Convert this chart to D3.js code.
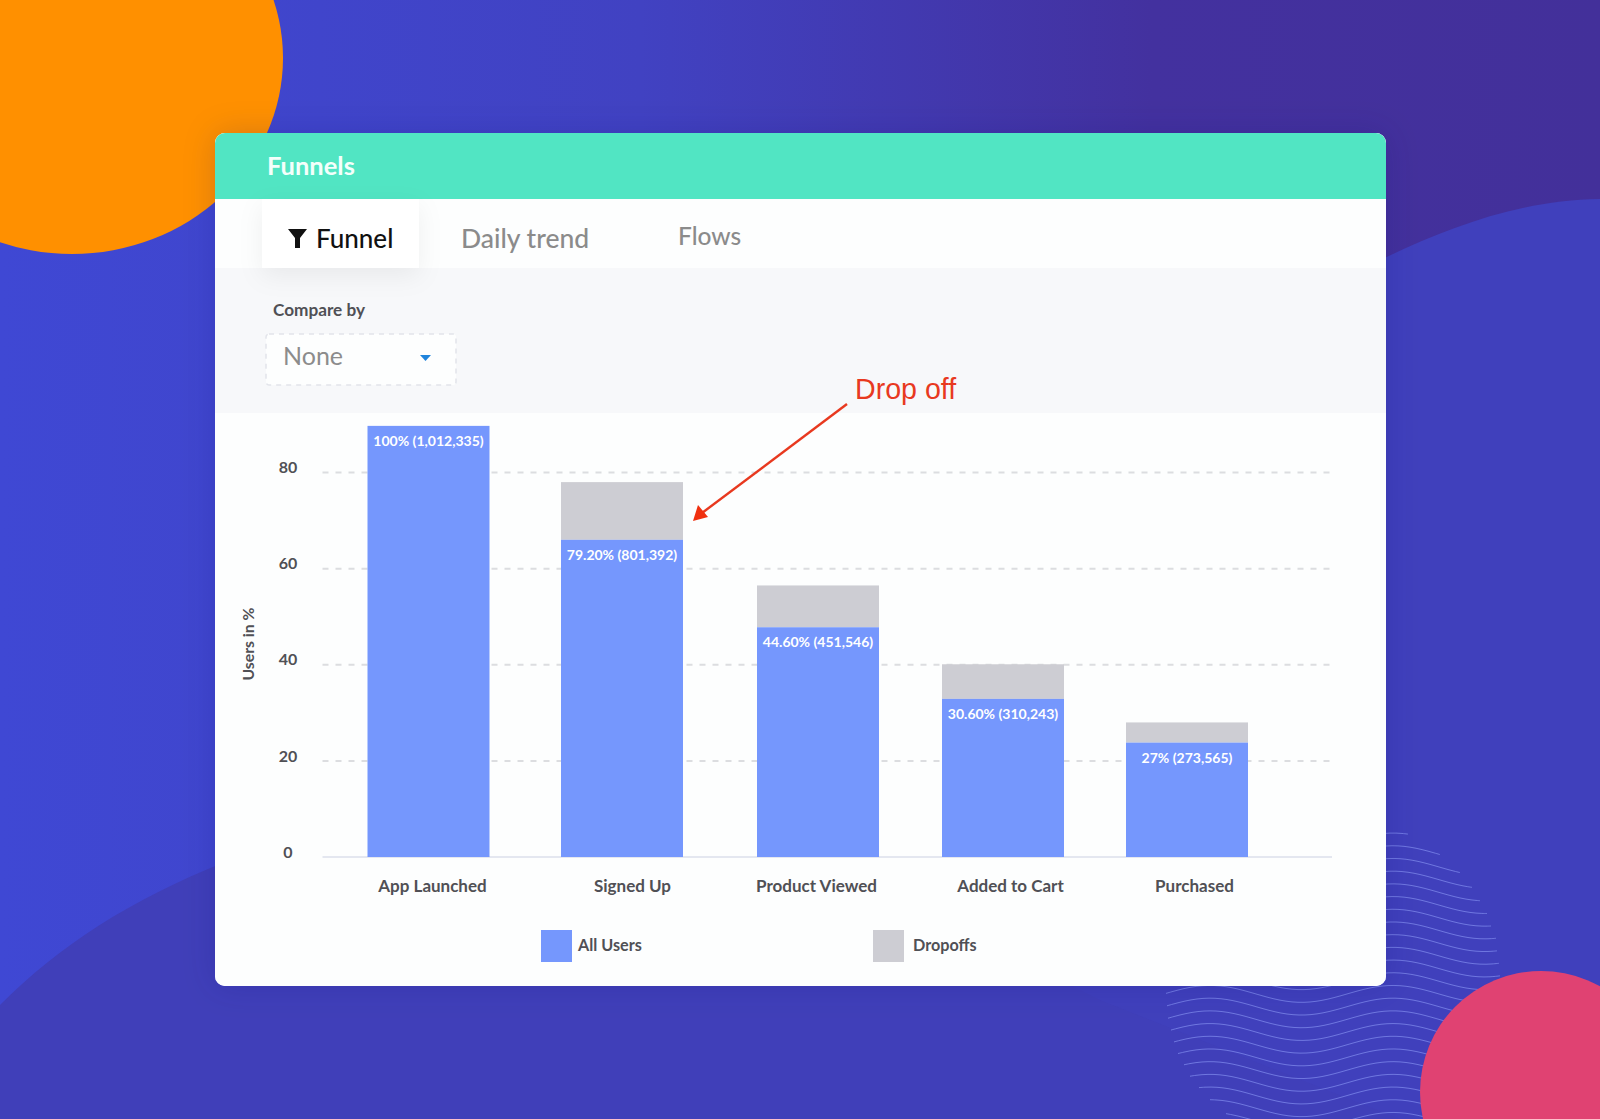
<!DOCTYPE html>
<html><head><meta charset="utf-8">
<script src="https://cdn.jsdelivr.net/npm/d3@7"></script>
<style>html,body{margin:0;padding:0;background:#3f45c8;overflow:hidden}svg{display:block}text{font-family:Lato,"Open Sans",sans-serif}</style>
</head><body><svg id="c" width="1600" height="1119"></svg>
<script>
const categories = ["App Launched","Signed Up","Product Viewed","Added to Cart","Purchased"];
const allUsers = [89.7,66,47.8,32.9,23.8];
const dropoffs = [0,12,8.7,7.2,4.2];
const barLabels = ["100% (1,012,335)","79.20% (801,392)","44.60% (451,546)","30.60% (310,243)","27% (273,565)"];
const yTicks = [0,20,40,60,80];
const seriesNames = ["All Users","Dropoffs"];
const seriesColors = ["#7597fd","#cdcdd3"];
const tabs = ["Funnel","Daily trend","Flows"];

// layout
const barCenters = [428.5,622,818,1003,1187], labelCenters=[432,632,816,1010,1194], barW=122;
const svg = d3.select("#c"), defs = svg.append("defs");
const x = d3.scaleOrdinal().domain(categories).range(barCenters);
const xl = d3.scaleOrdinal().domain(categories).range(labelCenters);
const y = d3.scaleLinear().domain([0,80]).range([857,472.5]);

// background
const g1 = defs.append("linearGradient").attr("id","bg").attr("x1",0).attr("y1",0).attr("x2",1).attr("y2",0);
[[0,"#3f48d4"],[.4,"#4142c2"],[.72,"#43319f"],[1,"#43309a"]].forEach(s=>g1.append("stop").attr("offset",s[0]).attr("stop-color",s[1]));
svg.append("rect").attr("width",1600).attr("height",1119).attr("fill","url(#bg)");
svg.append("path").attr("fill","#4040bc").attr("d","M1360 270C1430 235 1510 200 1600 199L1600 1119L900 1119L900 700Z");
svg.append("path").attr("fill","#403fb9").attr("d","M0 1005C60 945 130 900 225 862L700 800L1100 1000L1400 1119L0 1119Z");
svg.append("ellipse").attr("cx",72).attr("cy",58).attr("rx",211).attr("ry",196).attr("fill","#ff9000");

// wave decoration
const rightEnds=[1408,1440,1460,1472,1480,1487,1491,1496,1497,1499,1500,1500,1500,1500,1500,1500,1500,1500,1500,1500,1500,1500,1500,1500];
const leftEnds=[1300,1290,1280,1270,1250,1230,1200,1180,1170,1168,1166,1166,1166,1167,1168,1171,1174,1178,1184,1190,1199,1210,1226,1243];
const waveLine=d3.line().x(d=>d[0]).y(d=>d[1]).curve(d3.curveBasis);
rightEnds.forEach((r,n)=>{
  const y0=833+12.7*n, l=leftEnds[n], pts=d3.range(l,r+1,6).concat([r]);
  svg.append("path").attr("fill","none").attr("stroke","#7f8aec").attr("stroke-opacity",.75).attr("stroke-width",1)
   .attr("d",waveLine(pts.map(p=>[p,y0+8.5*(1-Math.cos(2*Math.PI*(p-1210)/183))])));
});
svg.append("circle").attr("cx",1541).attr("cy",1092).attr("r",121).attr("fill","#e04272");

// card
const sh=defs.append("filter").attr("id","soft").attr("x","-30%").attr("y","-30%").attr("width","160%").attr("height","180%");
sh.append("feDropShadow").attr("dx",0).attr("dy",8).attr("stdDeviation",12).attr("flood-color","#000").attr("flood-opacity",.06);
const sc=defs.append("filter").attr("id","cardShadow").attr("x","-10%").attr("y","-10%").attr("width","120%").attr("height","120%");
sc.append("feDropShadow").attr("dx",0).attr("dy",0).attr("stdDeviation",16).attr("flood-color","#201a60").attr("flood-opacity",.16);
svg.append("rect").attr("x",215).attr("y",133).attr("width",1171).attr("height",853).attr("rx",10).attr("fill","#fdfefe").attr("filter","url(#cardShadow)");
defs.append("clipPath").attr("id","card").append("rect").attr("x",215).attr("y",133).attr("width",1171).attr("height",853).attr("rx",10);
const card=svg.append("g").attr("clip-path","url(#card)");
card.append("rect").attr("x",215).attr("y",133).attr("width",1171).attr("height",853).attr("fill","#fdfefe");
card.append("rect").attr("x",215).attr("y",133).attr("width",1171).attr("height",66).attr("fill","#51e5c3");
card.append("rect").attr("x",215).attr("y",268).attr("width",1171).attr("height",145).attr("fill","#f7f8fa");
svg.append("text").attr("x",267).attr("y",175).attr("fill","#f4fffb").attr("font-size",25.5).attr("font-weight",700).text("Funnels");

// tabs
card.append("rect").attr("x",262).attr("y",199).attr("width",157).attr("height",69).attr("fill","#fff").attr("filter","url(#soft)");
svg.append("path").attr("fill","#111").attr("d","M288 229L307 229L300 238L300 248L295 248L295 238Z");
const tabX=[316,461,678], tabY=[248,248,245], tabC=["#111","#8b8b8b","#8b8b8b"], tabS=[26,26.5,24.5];
svg.selectAll(".tab").data(tabs).join("text").attr("class","tab").attr("x",(d,i)=>tabX[i]).attr("y",(d,i)=>tabY[i]).attr("fill",(d,i)=>tabC[i]).attr("font-size",(d,i)=>tabS[i]).attr("font-weight",500).text(d=>d);

// compare by
svg.append("text").attr("x",273).attr("y",316).attr("fill","#505055").attr("font-size",17.2).attr("font-weight",700).text("Compare by");
svg.append("rect").attr("x",266).attr("y",334).attr("width",190).attr("height",51).attr("rx",3).attr("fill","#fdfefe").attr("stroke","#e2e4ea").attr("stroke-width",1.5).attr("stroke-dasharray","5 5");
svg.append("text").attr("x",283).attr("y",365).attr("fill","#8c8c8c").attr("font-size",25).text("None");
svg.append("path").attr("fill","#1f84dc").attr("d","M420 355L431 355L425.5 361Z");

// grid
const grid=svg.append("g");
grid.selectAll("line").data(yTicks.filter(d=>d>0)).join("line").attr("x1",322.5).attr("x2",1332).attr("y1",y).attr("y2",y)
  .attr("stroke","#dcdde0").attr("stroke-width",2).attr("stroke-dasharray","6 7");
grid.append("line").attr("x1",322.5).attr("x2",1332).attr("y1",y(0)).attr("y2",y(0)).attr("stroke","#e4e7f0").attr("stroke-width",2);

// bars
const barG=svg.selectAll(".bar").data(categories).join("g").attr("class","bar");
barG.append("rect").attr("x",d=>x(d)-barW/2).attr("width",barW).attr("y",(d,i)=>y(allUsers[i]+dropoffs[i])).attr("height",(d,i)=>y(allUsers[i])-y(allUsers[i]+dropoffs[i])).attr("fill",seriesColors[1]);
barG.append("rect").attr("x",d=>x(d)-barW/2).attr("width",barW).attr("y",(d,i)=>y(allUsers[i])).attr("height",(d,i)=>y(0)-y(allUsers[i])).attr("fill",seriesColors[0]);
barG.append("text").attr("x",d=>x(d)).attr("y",(d,i)=>y(allUsers[i])+20).attr("text-anchor","middle").attr("fill","#fff").attr("font-size",14).attr("font-weight",700).text((d,i)=>barLabels[i]);

// axes
const yAxis=svg.append("g").attr("transform","translate(288,-5)").call(d3.axisLeft(y).tickValues(yTicks).tickSize(0).tickPadding(0));
yAxis.select(".domain").remove();
yAxis.selectAll("text").attr("text-anchor","middle").attr("font-size",16).attr("font-weight",700).attr("fill","#505055").style("font-family","Lato");
const xAxis=svg.append("g").attr("transform","translate(0,880)").call(d3.axisBottom(xl).tickSize(0).tickPadding(0));
xAxis.select(".domain").remove();
xAxis.selectAll("text").attr("font-size",17).attr("font-weight",700).attr("fill","#505055").style("font-family","Lato");
svg.append("text").attr("transform","translate(254,644) rotate(-90)").attr("text-anchor","middle").attr("font-size",15.8).attr("font-weight",700).attr("fill","#505055").text("Users in %");

// legend
const legX=[541,873], legT=[578,913];
const lg=svg.selectAll(".lg").data(seriesNames).join("g").attr("class","lg");
lg.append("rect").attr("x",(d,i)=>legX[i]).attr("y",930).attr("width",31).attr("height",32).attr("fill",(d,i)=>seriesColors[i]);
lg.append("text").attr("x",(d,i)=>legT[i]).attr("y",951).attr("font-size",16.2).attr("font-weight",700).attr("fill","#505055").text(d=>d);

// annotation
svg.append("text").attr("x",855).attr("y",399).attr("fill","#e8391f").attr("font-size",28.6).style("font-family","Liberation Sans").text("Drop off");
svg.append("line").attr("x1",847).attr("y1",404).attr("x2",702).attr("y2",513).attr("stroke","#e8391f").attr("stroke-width",2.4);
svg.append("path").attr("fill","#f0300f").attr("d","M693 521L698 505L708 517Z");
</script></body></html>
